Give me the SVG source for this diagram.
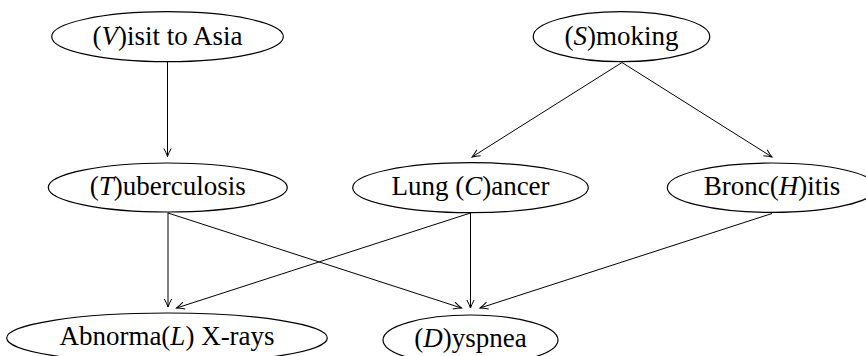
<svg xmlns="http://www.w3.org/2000/svg" width="866" height="356" viewBox="0 0 866 356">
<style>
.node ellipse{fill:none;stroke:#000;stroke-width:1.2}
.it{font-style:italic}
#edges line{stroke:#000;stroke-width:1;marker-end:url(#arr)}
</style>
<defs>
<marker id="arr" markerUnits="userSpaceOnUse" markerWidth="12" markerHeight="10" viewBox="-9 -5 10 10" refX="0" refY="0" orient="auto">
<path d="M-8,-3.6 Q-3.5,-1.2 0,0 Q-3.5,1.2 -8,3.6" fill="none" stroke="#000" stroke-width="1"/>
</marker>
</defs>
<rect width="866" height="356" fill="#fff"/>
<g id="edges">
<line x1="167.5" y1="62" x2="167.5" y2="156.5"/>
<line x1="622" y1="62.5" x2="472" y2="157"/>
<line x1="622" y1="62.5" x2="772" y2="157"/>
<line x1="168" y1="212.5" x2="168" y2="307"/>
<line x1="168" y1="213" x2="461.5" y2="308"/>
<line x1="470.5" y1="213" x2="176.5" y2="308"/>
<line x1="470.5" y1="213" x2="470.5" y2="308"/>
<line x1="772" y1="213.5" x2="480" y2="308"/>
</g>
<g font-family="Liberation Serif" font-size="27" text-anchor="middle" fill="#000">
<g id="node-V" class="node">
<ellipse cx="167.5" cy="36.7" rx="115.8" ry="25"/>
<text x="167.5" y="44.5" font-family="Liberation Serif">(<tspan class="it">V</tspan>)isit to Asia</text>
</g>
<g id="node-S" class="node">
<ellipse cx="621.5" cy="36.7" rx="88.3" ry="25"/>
<text x="621.5" y="44.5" font-family="Liberation Serif">(<tspan class="it">S</tspan>)moking</text>
</g>
<g id="node-T" class="node">
<ellipse cx="167.8" cy="187.5" rx="119.5" ry="24.5"/>
<text x="167.8" y="195" font-family="Liberation Serif">(<tspan class="it">T</tspan>)uberculosis</text>
</g>
<g id="node-C" class="node">
<ellipse cx="470.5" cy="187.7" rx="117.8" ry="25"/>
<text x="470.5" y="195.3" font-family="Liberation Serif">Lung (<tspan class="it">C</tspan>)ancer</text>
</g>
<g id="node-H" class="node">
<ellipse cx="772" cy="187.7" rx="104.7" ry="24.7"/>
<text x="772" y="195.3" font-family="Liberation Serif">Bronc(<tspan class="it">H</tspan>)itis</text>
</g>
<g id="node-L" class="node">
<ellipse cx="167" cy="338" rx="160.3" ry="25"/>
<text x="167" y="345.3" font-family="Liberation Serif">Abnorma(<tspan class="it">L</tspan>) X-rays</text>
</g>
<g id="node-D" class="node">
<ellipse cx="470.5" cy="340" rx="87.5" ry="25"/>
<text x="470.5" y="347.3" font-family="Liberation Serif">(<tspan class="it">D</tspan>)yspnea</text>
</g>
</g>
</svg>
